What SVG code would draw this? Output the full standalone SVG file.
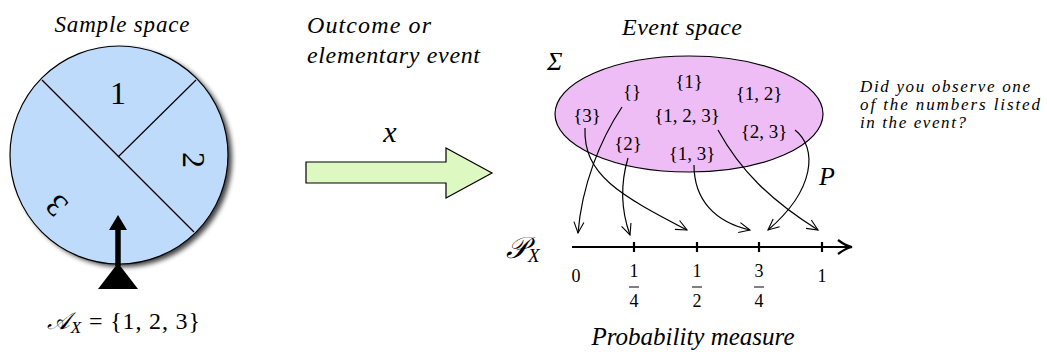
<svg xmlns="http://www.w3.org/2000/svg" width="1047" height="354" viewBox="0 0 1047 354">
<style>
.it{font-family:"Liberation Serif","DejaVu Serif",serif;font-style:italic;fill:#000}
.m{font-family:"Liberation Serif","DejaVu Serif",serif;fill:#000}
.ln{fill:none;stroke:#000;stroke-width:1.2}
</style>
<defs>
<filter id="sh" x="-20%" y="-20%" width="140%" height="140%"><feGaussianBlur stdDeviation="2.5"/></filter>
<marker id="a" markerWidth="14" markerHeight="12" refX="12" refY="6" orient="auto" markerUnits="userSpaceOnUse"><path d="M1,1 L12,6 L1,11" fill="none" stroke="#000" stroke-width="1.1"/></marker>
</defs>
<rect width="1047" height="354" fill="#fff"/>

<g id="sample-space">
<text class="it" x="122" y="32" font-size="23" text-anchor="middle" textLength="135">Sample space</text>
<circle cx="123" cy="158" r="109" fill="#000" opacity="0.75" filter="url(#sh)"/>
<circle cx="119" cy="155" r="109" fill="#bfdbfb" stroke="#000" stroke-width="1.2"/>
<line x1="42" y1="80" x2="194" y2="232" class="ln"/>
<line x1="196" y1="80" x2="118" y2="157" class="ln"/>
<text class="m" x="118" y="104" font-size="32" text-anchor="middle">1</text>
<text class="m" font-size="32" text-anchor="middle" transform="translate(183,160) rotate(90)">2</text>
<text class="m" font-size="32" text-anchor="middle" transform="translate(64,198) rotate(-135)">3</text>
<line x1="118" y1="266" x2="118" y2="226" stroke="#000" stroke-width="5.5"/>
<polygon points="118,215 109,230 127,230" fill="#000"/>
<polygon points="118,263 98,289 138,289" fill="#000"/>
<text class="m" x="47" y="329" font-size="24" textLength="153"><tspan font-style="italic">𝒜</tspan><tspan font-size="17" font-style="italic" dy="4">X</tspan><tspan dy="-4"> = {1, 2, 3}</tspan></text>
</g>

<g id="outcome">
<text class="it" x="307" y="33" font-size="24" textLength="124">Outcome or</text>
<text class="it" x="307" y="63" font-size="24" textLength="173">elementary event</text>
<text class="it" x="390" y="142" font-size="30" text-anchor="middle">x</text>
<polygon points="306,162 446,162 446,148 492,173 446,198 446,183 306,183" fill="#ddf8c0" stroke="#000" stroke-width="1.2"/>
</g>

<g id="event-space">
<text class="it" x="682" y="35" font-size="24" text-anchor="middle" textLength="120">Event space</text>
<text class="it" x="547" y="70" font-size="26">Σ</text>
<ellipse cx="689" cy="114" rx="134" ry="58" fill="#efbdf5" stroke="#000" stroke-width="1.2"/>
<g class="m" font-size="19" text-anchor="middle">
<text x="632" y="98">{}</text>
<text x="689" y="88">{1}</text>
<text x="759" y="100">{1, 2}</text>
<text x="587" y="122">{3}</text>
<text x="687" y="122">{1, 2, 3}</text>
<text x="764" y="138">{2, 3}</text>
<text x="628" y="150">{2}</text>
<text x="692" y="160">{1, 3}</text>
</g>
<text class="it" x="860" y="92" font-size="17" textLength="170">Did you observe one</text>
<text class="it" x="860" y="110" font-size="17" textLength="180">of the numbers listed</text>
<text class="it" x="860" y="128" font-size="17" textLength="106">in the event?</text>
<text class="it" x="819" y="185" font-size="26">P</text>
</g>

<g id="connectors">
<path class="ln" d="M622,107 C600,140 582,185 578,233" marker-end="url(#a)"/>
<path class="ln" d="M585,128 C583,175 620,195 687,230" marker-end="url(#a)"/>
<path class="ln" d="M628,158 C620,185 621,210 630,235" marker-end="url(#a)"/>
<path class="ln" d="M694,165 C694,200 715,222 750,230" marker-end="url(#a)"/>
<path class="ln" d="M718,130 C740,170 770,200 818,230" marker-end="url(#a)"/>
<path class="ln" d="M795,130 C818,148 815,190 768,230" marker-end="url(#a)"/>
</g>

<g id="probability-measure">
<text class="m" x="506" y="258" font-size="30"><tspan font-style="italic">𝒫</tspan><tspan font-size="19" font-style="italic" dy="4">X</tspan></text>
<line x1="572" y1="247" x2="850" y2="247" stroke="#000" stroke-width="2.2"/>
<path d="M838,240 Q846,246 852,247 Q846,248 838,254" fill="none" stroke="#000" stroke-width="2.2"/>
<g stroke="#000" stroke-width="2.2">
<line x1="634" y1="242" x2="634" y2="252"/>
<line x1="697" y1="242" x2="697" y2="252"/>
<line x1="759" y1="242" x2="759" y2="252"/>
<line x1="822" y1="242" x2="822" y2="252"/>
</g>
<g class="m" font-size="18" text-anchor="middle">
<text x="576" y="282">0</text>
<text x="634" y="277">1</text><text x="634" y="307">4</text>
<text x="697" y="277">1</text><text x="697" y="307">2</text>
<text x="759" y="277">3</text><text x="759" y="307">4</text>
<text x="822" y="282">1</text>
</g>
<g stroke="#000" stroke-width="1">
<line x1="629" y1="287" x2="639" y2="287"/>
<line x1="692" y1="287" x2="702" y2="287"/>
<line x1="754" y1="287" x2="764" y2="287"/>
</g>
<text class="it" x="693" y="345" font-size="25" text-anchor="middle" textLength="203">Probability measure</text>
</g>
</svg>
